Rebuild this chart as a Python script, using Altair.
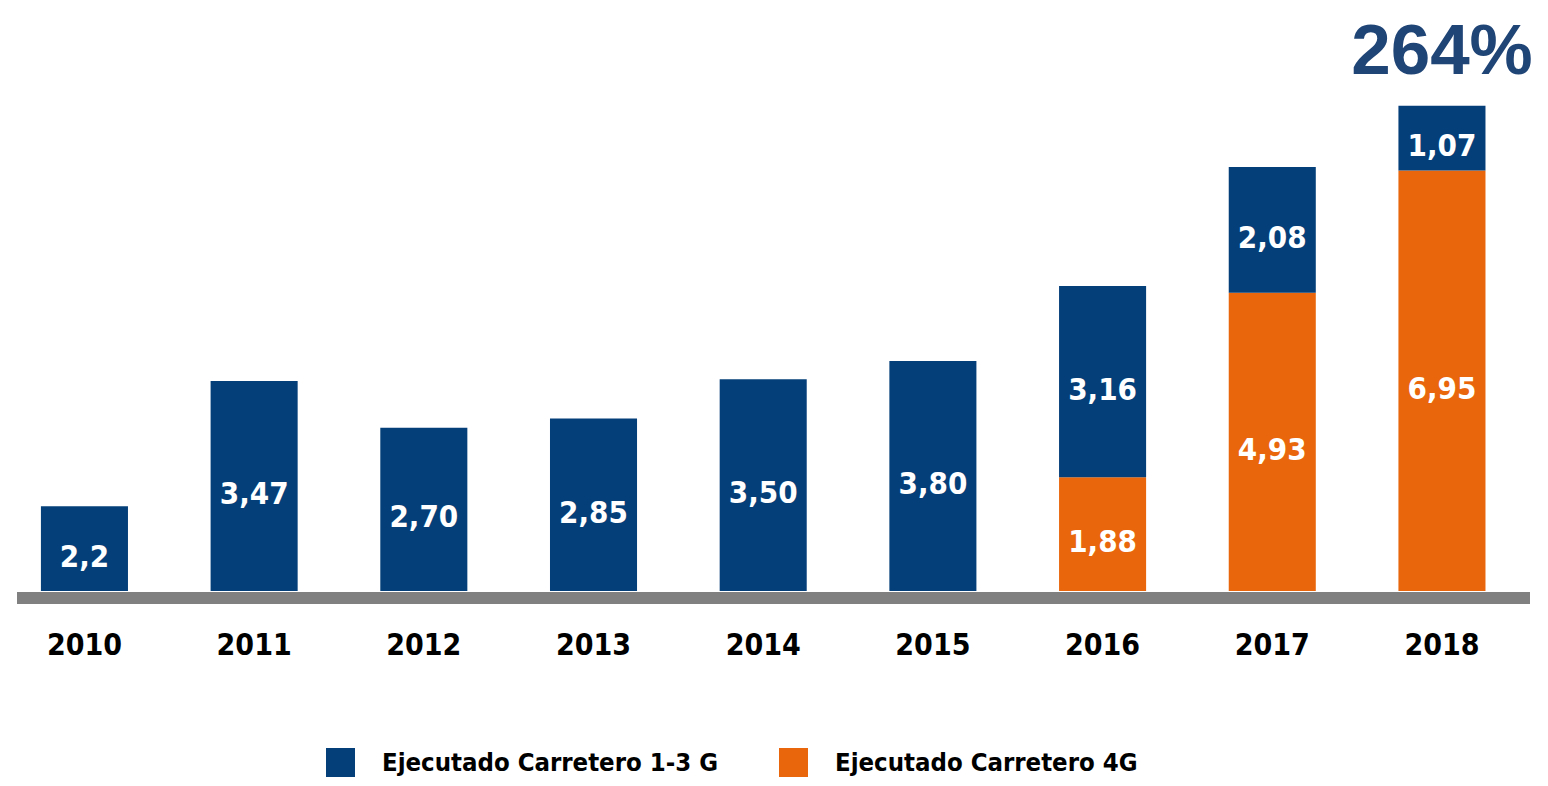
import altair as alt
import pandas as pd

# ---- data ----
years = ["2010", "2011", "2012", "2013", "2014", "2015", "2016", "2017", "2018"]
# bar heights as drawn (2010 bar is drawn shorter than its printed label in the source)
g13_values = [1.40, 3.47, 2.70, 2.85, 3.50, 3.80, 3.16, 2.08, 1.07]
g4_values = [0, 0, 0, 0, 0, 0, 1.88, 4.93, 6.95]
g13_labels = ["2,2", "3,47", "2,70", "2,85", "3,50", "3,80", "3,16", "2,08", "1,07"]
g4_labels = ["", "", "", "", "", "", "1,88", "4,93", "6,95"]
series_names = ["Ejecutado Carretero 1-3 G", "Ejecutado Carretero 4G"]
annotation_text = "264%"
annotation_year = "2018"

BLUE = "#053f7a"
ORANGE = "#e9660c"
GRAY = "#808080"
ANNOT = "#1f4476"
NARROW = "Liberation Sans Narrow, DejaVu Sans Condensed, Arial Narrow, sans-serif"

rows = []
for yr, a, b, la, lb in zip(years, g13_values, g4_values, g13_labels, g4_labels):
    # 4G at bottom, 1-3G stacked on top
    if b > 0:
        rows.append(dict(year=yr, series=series_names[1], y0=0.0, y1=b, label=lb))
    rows.append(dict(year=yr, series=series_names[0], y0=b, y1=b + a, label=la))
df = pd.DataFrame(rows)
df["mid"] = (df["y0"] + df["y1"]) / 2

totals = {yr: a + b for yr, a, b in zip(years, g13_values, g4_values)}
ann = pd.DataFrame([dict(year=annotation_year, total=totals[annotation_year], text=annotation_text)])

W, H = 1532, 583
PX_PER_UNIT = 60.5
ymax = H / PX_PER_UNIT

xscale = alt.Scale(domain=years, range=[0, 1510.4], paddingInner=0.487, paddingOuter=0.194)
yscale = alt.Scale(domain=[0, ymax], nice=False, zero=True)

x_enc = alt.X("year:N", scale=xscale, sort=years,
              axis=alt.Axis(title=None, domain=False, ticks=False, labelAngle=0,
                            labelFont=NARROW, labelFontSize=30, labelFontWeight="bold",
                            labelColor="#000000", labelPadding=39, grid=False))

bars = alt.Chart(df).mark_bar().encode(
    x=x_enc,
    y=alt.Y("y0:Q", scale=yscale, axis=None),
    y2="y1:Q",
    color=alt.Color("series:N", scale=alt.Scale(domain=series_names, range=[BLUE, ORANGE]),
                    legend=alt.Legend(title=None, orient="none", legendX=318, legendY=740,
                                      direction="horizontal", symbolType="square",
                                      symbolSize=841, symbolStrokeWidth=0,
                                      labelFont=NARROW, labelFontSize=25.5,
                                      labelFontWeight="bold", labelColor="#000000",
                                      labelOffset=27, columnPadding=60,
                                      labelLimit=600)),
)

labels = alt.Chart(df[df["label"] != ""]).mark_text(
    color="white", font=NARROW, fontSize=31, fontWeight="bold", baseline="middle", dy=9
).encode(
    x=alt.X("year:N", sort=years),
    y=alt.Y("mid:Q"),
    text="label:N",
)

baseline = alt.Chart(pd.DataFrame({"v": [0]})).mark_rule(
    color=GRAY, strokeWidth=12, yOffset=7
).encode(
    y=alt.Y("v:Q"),
    x=alt.value(9),
    x2=alt.value(1522),
)

annot = alt.Chart(ann).mark_text(
    color=ANNOT, font="Liberation Sans, Arial, sans-serif", fontSize=71,
    fontWeight="bold", baseline="alphabetic", dy=-32
).encode(
    x=alt.X("year:N", sort=years),
    y=alt.Y("total:Q"),
    text="text:N",
)

chart = alt.layer(bars, baseline, labels, annot).properties(
    width=W, height=H, autosize="none", background="white",
    padding={"left": 0, "top": 0, "right": 0, "bottom": 187},
).configure_view(stroke=None)

chart.save("out.html", embed_options={"renderer": "svg", "actions": False})
